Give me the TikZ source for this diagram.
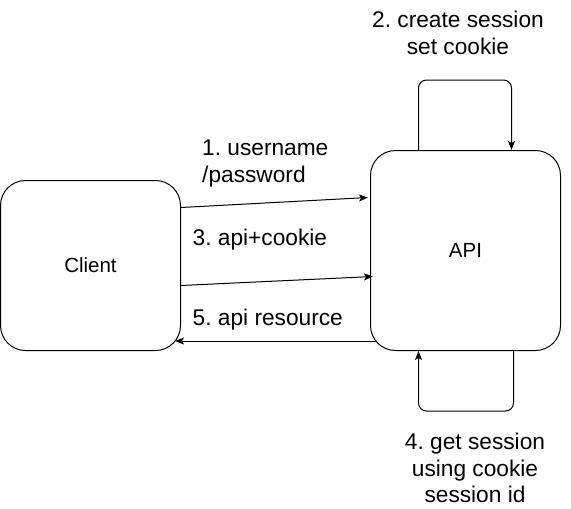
\documentclass[tikz,border=0pt]{standalone}
\usepackage{fontspec}
\setmainfont{Liberation Sans}
\usetikzlibrary{arrows.meta,calc}
\frenchspacing
\begin{document}
\begin{tikzpicture}[x=1pt,y=-1pt,
  box/.style={draw,line width=1pt,rounded corners=25pt,font=\fontsize{20.5}{24}\selectfont},
  arr/.style={line width=1pt,-{Stealth[length=9pt,width=7pt,inset=2pt]}},
  lbl/.style={font=\frenchspacing\fontsize{22.7}{26.5}\selectfont,inner sep=0pt}]
\useasboundingbox (0,0) rectangle (571,509);
\node[box,minimum width=180pt,minimum height=170pt] (client) at (90.5,265.5) {Client};
\node[box,minimum width=190pt,minimum height=200pt] (api) at (465.5,250.5) {API};
% arrows
\draw[arr] ([yshift=58pt]client.east) -- ([xshift=-2pt,yshift=53pt]api.west);
\draw[arr] ([yshift=-20pt]client.east) -- ([xshift=3pt,yshift=-26pt]api.west);
\draw[arr] ([xshift=6pt,yshift=-90.5pt]api.west) -- ([xshift=-6pt,yshift=-75.5pt]client.east);
\draw[arr,rounded corners=8pt] ([xshift=-47pt]api.north) -- ++(0,-70) -| ([xshift=46pt]api.north);
\draw[arr,rounded corners=8pt] ([xshift=48pt]api.south) -- ++(0,60) -| ([xshift=-47pt]api.south);
% labels
\node[lbl,align=left,anchor=west] (l1) at (202,163.5) {1. username\\/password};
\node[lbl,anchor=west] (l3) at (192.5,240) {3. api+cookie};
\node[lbl,anchor=west] (l5) at (192.5,320) {5. api resource};
\node[lbl,align=center] (l2) at (458,33) {2. create session\\set cookie};
\node[lbl,align=center] (l4) at (475,468) {4. get session\\using cookie\\session id};
\end{tikzpicture}
\end{document}
